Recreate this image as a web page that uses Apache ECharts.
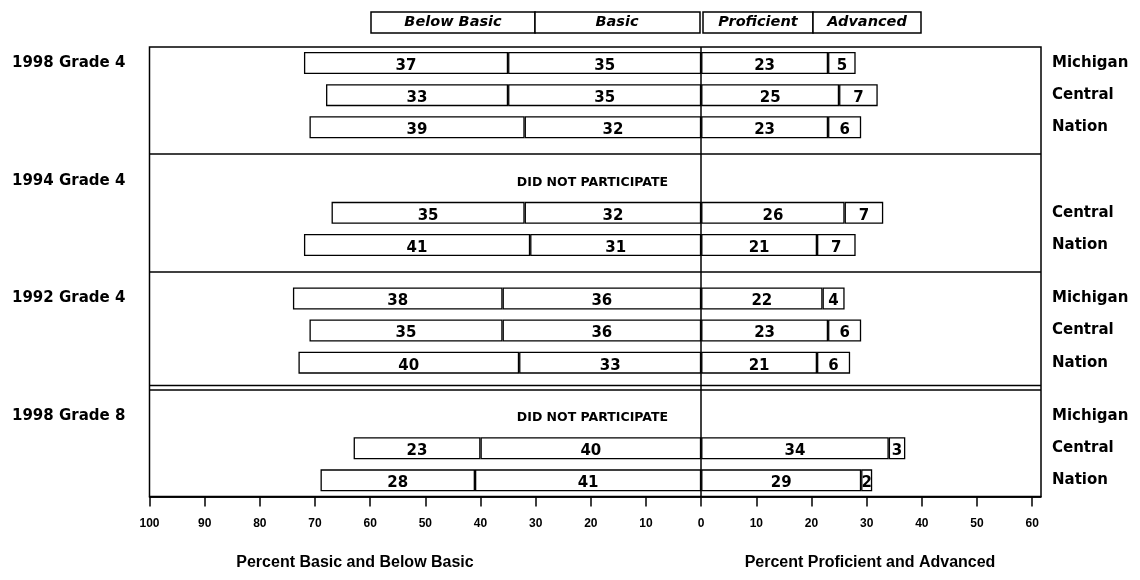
<!DOCTYPE html>
<html>
<head>
<meta charset="utf-8">
<script src="https://cdn.jsdelivr.net/npm/echarts@6/dist/echarts.min.js"></script>
<style>html,body{margin:0;padding:0;background:#fff}#c{width:1140px;height:580px}</style>
</head>
<body>
<div id="c"></div>
<script>
// ---------- DATA ----------
const groups = ['1998 Grade 4', '1994 Grade 4', '1992 Grade 4', '1998 Grade 8'];
const rowNames = [
  ['Michigan', 'Central', 'Nation'],
  ['', 'Central', 'Nation'],
  ['Michigan', 'Central', 'Nation'],
  ['Michigan', 'Central', 'Nation']
];
const belowBasic = [[37, 33, 39], [null, 35, 41], [38, 35, 40], [null, 23, 28]];
const basic      = [[35, 35, 32], [null, 32, 31], [36, 36, 33], [null, 40, 41]];
const proficient = [[23, 25, 23], [null, 26, 21], [22, 23, 21], [null, 34, 29]];
const advanced   = [[5, 7, 6],    [null, 7, 7],   [4, 6, 6],    [null, 3, 2]];
const xTicks = [-100, -90, -80, -70, -60, -50, -40, -30, -20, -10, 0, 10, 20, 30, 40, 50, 60];
const legendNames = ['Below Basic', 'Basic', 'Proficient', 'Advanced'];
const dnpText = 'DID NOT PARTICIPATE';
const xTitles = ['Percent Basic and Below Basic', 'Percent Proficient and Advanced'];

// ---------- LAYOUT (slots on the category axis) ----------
const padTop = [0, 1, 1, 1], padBottom = [1, 1, 1, 0];
const slots = []; // {g, r} or null
const boundaries = [];
groups.forEach((g, gi) => {
  if (gi > 0) boundaries.push(slots.length);
  for (let i = 0; i < padTop[gi]; i++) slots.push(null);
  for (let r = 0; r < 3; r++) { slots.push(null); slots.push({ g: gi, r }); slots.push(null); }
  for (let i = 0; i < padBottom[gi]; i++) slots.push(null);
});
const keys = slots.map((s, i) => 's' + i);
const leftLab = slots.map(s => (s && s.r === 0) ? groups[s.g] : '');
const rightLab = slots.map(s => s ? rowNames[s.g][s.r] : '');
const pick = (arr, sign) => slots.map(s => {
  if (!s) return null;
  const v = arr[s.g][s.r];
  return v == null ? null : sign * v;
});
const dnpData = [];
slots.forEach((s, i) => { if (s && basic[s.g][s.r] == null) dnpData.push([-19.7, i]); });

const FONT = 'DejaVu Sans';
const barLabel = {
  show: true, position: 'inside', color: '#000', fontFamily: FONT, fontWeight: 'bold',
  fontSize: 15, offset: [0, 3], formatter: p => Math.abs(p.value)
};
const barStyle = { color: '#fff', borderColor: '#000', borderWidth: 1.3 };
const mkBar = (name, data, extra) => Object.assign({
  name, type: 'bar', stack: 'all', data, barWidth: 22, yAxisIndex: 0,
  itemStyle: barStyle, label: barLabel, emphasis: { disabled: true }
}, extra || {});

const chart = echarts.init(document.getElementById('c'), null, { renderer: 'canvas' });
chart.setOption({
  animation: false,
  backgroundColor: '#fff',
  grid: { left: 149.5, right: 99, top: 47, bottom: 83.6, show: true, borderColor: '#000', borderWidth: 1.5, backgroundColor: 'transparent' },
  xAxis: {
    type: 'value', min: -100, max: 61.6, interval: 10,
    axisLine: { show: true, lineStyle: { color: '#000', width: 1.5 } },
    axisTick: { show: true, length: 10, customValues: xTicks, lineStyle: { color: '#000', width: 1.5 } },
    axisLabel: { customValues: xTicks, formatter: v => String(Math.abs(v)), color: '#000', fontFamily: 'Liberation Sans', fontWeight: 'bold', fontSize: 12, margin: 21 },
    splitLine: { show: false }
  },
  yAxis: [
    {
      type: 'category', data: keys, inverse: true, position: 'left',
      axisLine: { show: false }, axisTick: { show: false },
      axisLabel: { interval: 0, formatter: (v, i) => leftLab[i], align: 'left', margin: 137.5, color: '#000', fontFamily: FONT, fontWeight: 'bold', fontSize: 15, padding: [10, 0, 0, 0] },
      splitLine: { show: true, interval: (i) => boundaries.indexOf(i) >= 0, lineStyle: { color: '#000', width: 1.5 } }
    },
    {
      type: 'category', data: keys, inverse: true, position: 'right',
      axisLine: { show: false }, axisTick: { show: false },
      axisLabel: { interval: 0, formatter: (v, i) => rightLab[i], align: 'left', margin: 11, color: '#000', fontFamily: FONT, fontWeight: 'bold', fontSize: 15, padding: [10, 0, 0, 0] },
      splitLine: { show: false }
    }
  ],
  series: [
    mkBar('Basic', pick(basic, -1), {
      markLine: { silent: true, symbol: ['none', 'none'], label: { show: false }, lineStyle: { color: '#000', type: 'solid', width: 1.5 }, data: [{ xAxis: 0 }] }
    }),
    mkBar('Below Basic', pick(belowBasic, -1)),
    mkBar('Proficient', pick(proficient, 1)),
    mkBar('Advanced', pick(advanced, 1)),
    {
      type: 'scatter', yAxisIndex: 0, symbolSize: 0, data: dnpData, silent: true,
      itemStyle: { opacity: 1 },
      label: { show: true, position: 'inside', formatter: dnpText, color: '#000', opacity: 1, fontFamily: FONT, fontWeight: 'bold', fontSize: 12.5, offset: [0, 2] }
    }
  ],
  graphic: [
    { type: 'line', shape: { x1: 149.5, y1: 385.4, x2: 1041, y2: 385.4 }, style: { stroke: '#000', lineWidth: 1.5 } },
    // legend boxes
    { type: 'rect', shape: { x: 371, y: 12, width: 164, height: 21 }, style: { fill: '#fff', stroke: '#000', lineWidth: 1.5 } },
    { type: 'rect', shape: { x: 535, y: 12, width: 165, height: 21 }, style: { fill: '#fff', stroke: '#000', lineWidth: 1.5 } },
    { type: 'rect', shape: { x: 703, y: 12, width: 110, height: 21 }, style: { fill: '#fff', stroke: '#000', lineWidth: 1.5 } },
    { type: 'rect', shape: { x: 813, y: 12, width: 108, height: 21 }, style: { fill: '#fff', stroke: '#000', lineWidth: 1.5 } },
    { type: 'text', style: { text: legendNames[0], x: 453, y: 22.5, align: 'center', verticalAlign: 'middle', font: 'italic bold 14.5px "DejaVu Sans"', fill: '#000' } },
    { type: 'text', style: { text: legendNames[1], x: 617, y: 22.5, align: 'center', verticalAlign: 'middle', font: 'italic bold 14.5px "DejaVu Sans"', fill: '#000' } },
    { type: 'text', style: { text: legendNames[2], x: 758, y: 22.5, align: 'center', verticalAlign: 'middle', font: 'italic bold 14.5px "DejaVu Sans"', fill: '#000' } },
    { type: 'text', style: { text: legendNames[3], x: 867, y: 22.5, align: 'center', verticalAlign: 'middle', font: 'italic bold 14.5px "DejaVu Sans"', fill: '#000' } },
    // axis titles
    { type: 'text', style: { text: xTitles[0], x: 355, y: 563, align: 'center', verticalAlign: 'middle', font: 'bold 16px "Liberation Sans"', fill: '#000' } },
    { type: 'text', style: { text: xTitles[1], x: 870, y: 563, align: 'center', verticalAlign: 'middle', font: 'bold 16px "Liberation Sans"', fill: '#000' } }
  ]
});
</script>
</body>
</html>
